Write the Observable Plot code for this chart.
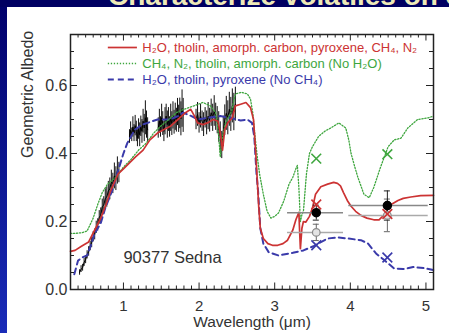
<!DOCTYPE html>
<html><head><meta charset="utf-8">
<script src="https://cdn.jsdelivr.net/npm/d3@7"></script>
<script src="https://cdn.jsdelivr.net/npm/@observablehq/plot@0.6"></script>
<style>
html,body{margin:0;padding:0;background:#fff;}
#wrap{position:relative;width:449px;height:333px;overflow:hidden;background:#fff;}
#left{position:absolute;left:0;top:0;width:7px;height:333px;background:linear-gradient(#00006a,#1a2cb8);}
#top{position:absolute;left:0;top:0;width:449px;height:7px;background:#000062;overflow:hidden;}
#title{position:absolute;left:108px;top:-20px;line-height:28px;font:bold 28px "Liberation Sans",Arial,sans-serif;color:#eeeab8;white-space:nowrap;}
#chart{position:absolute;left:0;top:0;}
</style></head><body>
<div id="wrap"><div id="chart"></div><div id="left"></div><div id="top"><div id="title">Characterize volatiles on Sedna</div></div></div>
<script>
// ---------- data ----------
const xMajorTicks = [1, 2, 3, 4, 5];
const yMajorTicks = [0, 0.2, 0.4, 0.6];

// observed spectrum [wavelength, albedo, error]
const obsVis = [[0.42,0.050,0.008],[0.44,0.060,0.010],[0.46,0.064,0.010],[0.48,0.080,0.012],[0.50,0.088,0.012],[0.52,0.102,0.012],[0.54,0.112,0.014],[0.56,0.128,0.014],[0.58,0.138,0.015],[0.60,0.155,0.015],[0.62,0.162,0.016],[0.64,0.183,0.018],[0.66,0.190,0.018],[0.68,0.212,0.020],[0.70,0.218,0.022],[0.72,0.244,0.022],[0.74,0.248,0.025],[0.76,0.268,0.028],[0.78,0.272,0.030],[0.80,0.290,0.028],[0.82,0.296,0.032],[0.84,0.316,0.035],[0.86,0.312,0.030],[0.88,0.334,0.038],[0.90,0.326,0.035],[0.92,0.350,0.040],[0.94,0.344,0.030]];
const obsJ = [[1.08,0.450,0.020],[1.095,0.468,0.025],[1.11,0.455,0.020],[1.125,0.478,0.030],[1.14,0.460,0.025],[1.155,0.482,0.030],[1.17,0.465,0.030],[1.185,0.445,0.025],[1.20,0.472,0.030],[1.215,0.455,0.035],[1.23,0.480,0.030],[1.245,0.465,0.035],[1.26,0.495,0.035],[1.275,0.475,0.040],[1.29,0.505,0.050],[1.305,0.485,0.040],[1.32,0.470,0.035]];
const obsH = [[1.46,0.475,0.030],[1.475,0.495,0.035],[1.49,0.478,0.030],[1.505,0.505,0.040],[1.52,0.488,0.035],[1.535,0.465,0.030],[1.55,0.495,0.040],[1.565,0.510,0.035],[1.58,0.485,0.040],[1.595,0.500,0.035],[1.61,0.478,0.030],[1.625,0.505,0.040],[1.64,0.488,0.035],[1.655,0.512,0.040],[1.67,0.492,0.035],[1.685,0.508,0.040],[1.70,0.498,0.035],[1.715,0.522,0.040],[1.73,0.502,0.040],[1.745,0.518,0.045],[1.76,0.502,0.050],[1.775,0.532,0.055],[1.79,0.512,0.050]];
const obsK = [[1.96,0.500,0.030],[1.98,0.515,0.035],[2.00,0.490,0.030],[2.02,0.510,0.035],[2.04,0.495,0.030],[2.06,0.485,0.035],[2.08,0.505,0.030],[2.10,0.490,0.035],[2.12,0.510,0.040],[2.14,0.498,0.035],[2.16,0.520,0.040],[2.18,0.505,0.040],[2.20,0.525,0.045],[2.22,0.508,0.040],[2.24,0.498,0.040],[2.26,0.478,0.045],[2.28,0.448,0.045],[2.30,0.425,0.040],[2.32,0.465,0.045],[2.34,0.498,0.045],[2.36,0.518,0.050],[2.38,0.505,0.050],[2.40,0.530,0.050],[2.42,0.515,0.050],[2.44,0.540,0.050],[2.46,0.522,0.055],[2.48,0.545,0.050]];

// model: H2O, tholin, amorph. carbon, pyroxene, CH4, N2
const redModel = [[0.30,0.112],[0.36,0.115],[0.45,0.128],[0.54,0.140],[0.62,0.175],[0.70,0.210],[0.77,0.250],[0.83,0.290],[0.93,0.340],[1.00,0.355],[1.07,0.370],[1.16,0.390],[1.26,0.410],[1.35,0.440],[1.45,0.460],[1.53,0.470],[1.62,0.480],[1.72,0.500],[1.82,0.520],[1.89,0.530],[1.94,0.510],[1.98,0.490],[2.05,0.485],[2.11,0.490],[2.19,0.500],[2.25,0.495],[2.28,0.460],[2.31,0.410],[2.34,0.470],[2.38,0.490],[2.44,0.505],[2.48,0.540],[2.55,0.545],[2.62,0.550],[2.68,0.535],[2.72,0.500],[2.75,0.400],[2.77,0.320],[2.79,0.240],[2.81,0.180],[2.85,0.150],[2.91,0.135],[2.97,0.130],[3.04,0.130],[3.11,0.135],[3.17,0.145],[3.24,0.175],[3.28,0.205],[3.32,0.227],[3.33,0.170],[3.34,0.120],[3.36,0.180],[3.38,0.200],[3.41,0.198],[3.46,0.215],[3.50,0.240],[3.54,0.280],[3.61,0.302],[3.70,0.310],[3.78,0.315],[3.83,0.312],[3.87,0.305],[3.91,0.285],[3.96,0.262],[4.01,0.245],[4.07,0.230],[4.14,0.218],[4.22,0.210],[4.31,0.205],[4.38,0.205],[4.44,0.218],[4.49,0.235],[4.54,0.250],[4.63,0.262],[4.70,0.268],[4.80,0.272],[4.93,0.276],[5.10,0.277]];
// model: CH4, N2, tholin, amorph. carbon (No H2O)
const greenModel = [[0.30,0.165],[0.36,0.165],[0.45,0.167],[0.52,0.172],[0.60,0.210],[0.66,0.250],[0.72,0.285],[0.79,0.310],[0.90,0.330],[1.00,0.360],[1.09,0.380],[1.20,0.410],[1.30,0.430],[1.40,0.460],[1.49,0.480],[1.60,0.500],[1.70,0.520],[1.80,0.530],[1.93,0.540],[2.05,0.550],[2.15,0.540],[2.22,0.520],[2.26,0.450],[2.28,0.390],[2.31,0.450],[2.35,0.490],[2.43,0.525],[2.48,0.575],[2.56,0.580],[2.64,0.575],[2.68,0.560],[2.71,0.520],[2.74,0.450],[2.77,0.390],[2.80,0.340],[2.85,0.280],[2.90,0.230],[2.95,0.210],[3.00,0.215],[3.05,0.225],[3.12,0.260],[3.19,0.310],[3.24,0.330],[3.28,0.355],[3.30,0.365],[3.32,0.300],[3.34,0.200],[3.36,0.220],[3.38,0.230],[3.42,0.340],[3.46,0.400],[3.50,0.420],[3.58,0.450],[3.66,0.465],[3.74,0.475],[3.85,0.490],[3.94,0.475],[3.98,0.440],[4.01,0.400],[4.06,0.360],[4.10,0.330],[4.18,0.280],[4.25,0.270],[4.31,0.300],[4.40,0.360],[4.50,0.420],[4.58,0.440],[4.67,0.445],[4.76,0.475],[4.89,0.500],[5.03,0.505],[5.10,0.510]];
// model: H2O, tholin, pyroxene (No CH4)
const blueModel = [[0.35,0.045],[0.40,0.085],[0.46,0.095],[0.52,0.100],[0.57,0.130],[0.62,0.165],[0.70,0.195],[0.76,0.240],[0.85,0.290],[0.93,0.350],[1.00,0.400],[1.05,0.430],[1.15,0.470],[1.25,0.485],[1.32,0.490],[1.45,0.500],[1.62,0.500],[1.72,0.510],[1.79,0.520],[1.90,0.510],[1.98,0.500],[2.11,0.505],[2.28,0.510],[2.41,0.505],[2.55,0.497],[2.64,0.500],[2.70,0.490],[2.73,0.450],[2.76,0.340],[2.78,0.290],[2.81,0.180],[2.85,0.135],[2.92,0.110],[3.05,0.100],[3.24,0.108],[3.38,0.115],[3.52,0.128],[3.70,0.150],[3.83,0.153],[3.97,0.150],[4.14,0.145],[4.23,0.136],[4.34,0.106],[4.44,0.088],[4.58,0.062],[4.70,0.060],[4.83,0.066],[4.97,0.063],[5.10,0.057]];

// Spitzer IRAC photometry
const iracWave = [3.55, 4.49];
const iracLo = [3.17, 3.98];
const iracHi = [3.91, 5.03];
const measAlb = [0.226, 0.247];
const measErr = [0.022, 0.043];
const corrAlb = [0.168, 0.218];
const corrErr = [0.024, 0.048];
const redX = [0.250, 0.222];
const greenX = [0.385, 0.398];
const blueX = [0.130, 0.094];

const legendLabels = ["H₂O, tholin, amorph. carbon, pyroxene, CH₄, N₂", "CH₄, N₂, tholin, amorph. carbon (No H₂O)", "H₂O, tholin, pyroxene (No CH₄)"];
const legendColors = ["#cc3333", "#3ea63e", "#3a3aaa"];

// ---------- build ----------
const W = 449, H = 333, mL = 70, mR = 16, mT = 34, mB = 44;
const xDom = [0.3, 5.1], yDom = [0, 0.75];
const kx = (xDom[1]-xDom[0])/(W-mL-mR), ky = (yDom[1]-yDom[0])/(H-mT-mB);
const RED = "#cc3333", GREEN = "#3ea63e", BLUE = "#3a3aaa";

const obs = [["vis",obsVis],["J",obsJ],["H",obsH],["K",obsK]].flatMap(([b,arr]) => arr.map(([w,a,e]) => ({band:b, w, a, e})));
const toPts = arr => arr.map(([w,a]) => ({w, a}));
const irac = iracWave.map((w,i) => ({w, lo: iracLo[i], hi: iracHi[i], m: measAlb[i], me: measErr[i], c: corrAlb[i], ce: corrErr[i], r: redX[i], g: greenX[i], b: blueX[i]}));

const xMinor = d3.range(3, 52).map(i => i/10).filter(v => !xMajorTicks.includes(v));
const yMinor = d3.range(0, 16).map(i => +(i*0.05).toFixed(2)).filter(v => !yMajorTicks.includes(v));

const legendRows = legendLabels.map((t,i) => ({t, color: legendColors[i], row: i}));
const rowY = i => yDom[1] - (13 + i*16)*ky;
const legX1 = 0.80, legX2 = 1.185, legTx = 1.25;

const font = "'Liberation Sans', Arial, Helvetica, sans-serif";
const chart = Plot.plot({
  width: W, height: H, marginLeft: mL, marginRight: mR, marginTop: mT, marginBottom: mB,
  style: {fontFamily: font, background: "white", overflow: "visible"},
  x: {domain: xDom, label: null},
  y: {domain: yDom, label: null},
  marks: [
    // observed spectrum
    Plot.ruleX(obs, {x: "w", y1: d => d.a - d.e, y2: d => d.a + d.e, stroke: "#111", strokeWidth: 1}),
    Plot.line(obs, {x: "w", y: "a", z: "band", stroke: "#000", strokeWidth: 1}),
    // models
    Plot.line(toPts(blueModel), {x: "w", y: "a", stroke: BLUE, strokeWidth: 2, strokeDasharray: "6,4"}),
    Plot.line(toPts(greenModel), {x: "w", y: "a", stroke: GREEN, strokeWidth: 1.3, strokeDasharray: "1.3,1.7"}),
    Plot.line(toPts(redModel), {x: "w", y: "a", stroke: RED, strokeWidth: 1.7}),
    // IRAC bandwidth bars
    Plot.ruleY(irac, {y: "c", x1: "lo", x2: "hi", stroke: "#aaa", strokeWidth: 1.5}),
    Plot.ruleY(irac, {y: "m", x1: "lo", x2: "hi", stroke: "#888", strokeWidth: 1.5}),
    // error bars
    Plot.ruleX(irac, {x: "w", y1: d => d.c - d.ce, y2: d => d.c + d.ce, stroke: "#666", strokeWidth: 1}),
    Plot.ruleY(irac, {y: d => d.c - d.ce, x1: d => d.w - 3*kx, x2: d => d.w + 3*kx, stroke: "#666", strokeWidth: 1}),
    Plot.ruleY(irac, {y: d => d.c + d.ce, x1: d => d.w - 3*kx, x2: d => d.w + 3*kx, stroke: "#666", strokeWidth: 1}),
    Plot.ruleX(irac, {x: "w", y1: d => d.m - d.me, y2: d => d.m + d.me, stroke: "#222", strokeWidth: 1}),
    Plot.ruleY(irac, {y: d => d.m - d.me, x1: d => d.w - 3*kx, x2: d => d.w + 3*kx, stroke: "#222", strokeWidth: 1}),
    Plot.ruleY(irac, {y: d => d.m + d.me, x1: d => d.w - 3*kx, x2: d => d.w + 3*kx, stroke: "#222", strokeWidth: 1}),
    Plot.dot(irac, {x: "w", y: "c", r: 3.8, fill: "#e4e4e4", stroke: "#8a8a8a", strokeWidth: 1.2}),
    Plot.dot(irac, {x: "w", y: "m", r: 4, fill: "#000", stroke: "#000"}),
    // model photometry
    Plot.dot(irac, {x: "w", y: "r", symbol: "times", r: 4.5, stroke: RED, strokeWidth: 1.6}),
    Plot.dot(irac, {x: "w", y: "g", symbol: "times", r: 4.5, stroke: GREEN, strokeWidth: 1.6}),
    Plot.dot(irac, {x: "w", y: "b", symbol: "times", r: 4.5, stroke: BLUE, strokeWidth: 1.6}),
    // object name
    Plot.text(["90377 Sedna"], {x: 1.0, y: 0.094, text: d => d, textAnchor: "start", fontSize: 16.5, fill: "#333"}),
    // legend
    Plot.ruleY(legendRows.filter(d => d.row === 0), {y: d => rowY(d.row), x1: legX1, x2: legX2, stroke: RED, strokeWidth: 1.7}),
    Plot.ruleY(legendRows.filter(d => d.row === 1), {y: d => rowY(d.row), x1: legX1, x2: legX2, stroke: GREEN, strokeWidth: 1.3, strokeDasharray: "1.3,1.7"}),
    Plot.ruleY(legendRows.filter(d => d.row === 2), {y: d => rowY(d.row), x1: legX1, x2: legX2, stroke: BLUE, strokeWidth: 2, strokeDasharray: "6,4"}),
    Plot.text(legendRows, {x: legTx, y: d => rowY(d.row), text: "t", fill: "color", textAnchor: "start", fontSize: 13}),
    // inward ticks
    Plot.ruleY(yMinor, {y: d => d, x1: xDom[0], x2: xDom[0] + 4*kx, stroke: "#222"}),
    Plot.ruleY(yMajorTicks, {y: d => d, x1: xDom[0], x2: xDom[0] + 7*kx, stroke: "#222"}),
    Plot.ruleY(yMinor, {y: d => d, x1: xDom[1] - 4*kx, x2: xDom[1], stroke: "#222"}),
    Plot.ruleY(yMajorTicks, {y: d => d, x1: xDom[1] - 7*kx, x2: xDom[1], stroke: "#222"}),
    Plot.ruleX(xMinor, {x: d => d, y1: yDom[0], y2: yDom[0] + 3.5*ky, stroke: "#222"}),
    Plot.ruleX(xMajorTicks, {x: d => d, y1: yDom[0], y2: yDom[0] + 6.5*ky, stroke: "#222"}),
    Plot.ruleX(xMinor, {x: d => d, y1: yDom[1] - 3.5*ky, y2: yDom[1], stroke: "#222"}),
    Plot.ruleX(xMajorTicks, {x: d => d, y1: yDom[1] - 6.5*ky, y2: yDom[1], stroke: "#222"}),
    Plot.frame({stroke: "#222", strokeWidth: 1.5}),
    // axes
    Plot.axisX(xMajorTicks, {tickSize: 0, tickPadding: 11, tickFormat: d => String(d), fontSize: 15, fill: "#333", label: null}),
    Plot.axisY(yMajorTicks, {tickSize: 0, tickPadding: 3, tickFormat: d => d.toFixed(1), fontSize: 16, fill: "#333", label: null}),
    Plot.text(["Wavelength (μm)"], {frameAnchor: "bottom", lineAnchor: "middle", dy: 33, text: d => d, fontSize: 15.5, fill: "#333"}),
    Plot.text(["Geometric Albedo"], {frameAnchor: "left", dx: -43, dy: -4, rotate: -90, text: d => d, fontSize: 16, fill: "#333"})
  ]
});
document.getElementById("chart").appendChild(chart);
</script>
</body></html>
